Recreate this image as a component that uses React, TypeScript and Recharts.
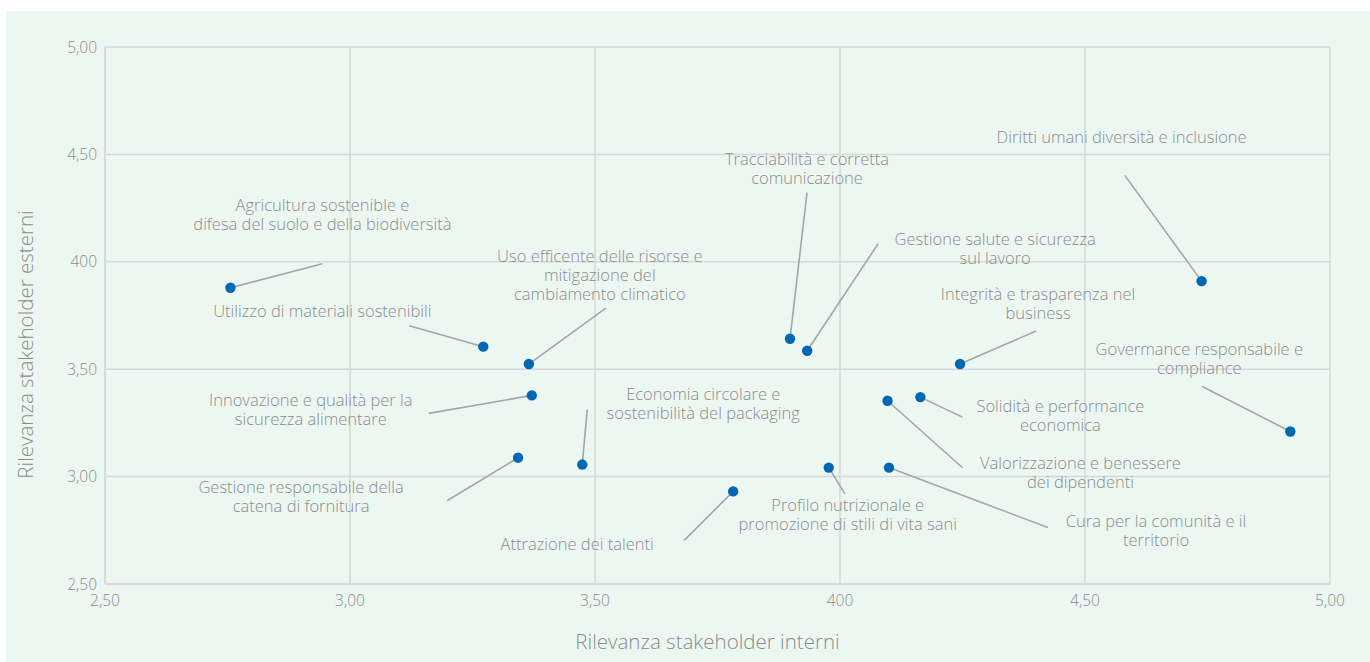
import {
  ScatterChart,
  Scatter,
  XAxis,
  YAxis,
  CartesianGrid,
  Label,
} from "recharts";

// Materiality matrix: internal vs external stakeholder relevance
const topics = [
  ["Agricultura sostenible e", "difesa del suolo e della biodiversità"],
  ["Utilizzo di materiali sostenibili"],
  ["Uso efficente delle risorse e", "mitigazione del", "cambiamento climatico"],
  ["Innovazione e qualità per la", "sicurezza alimentare"],
  ["Gestione responsabile della", "catena di fornitura"],
  ["Economia circolare e", "sostenibilità del packaging"],
  ["Attrazione dei talenti"],
  ["Tracciabilità e corretta", "comunicazione"],
  ["Gestione salute e sicurezza", "sul lavoro"],
  ["Integrità e trasparenza nel", "business"],
  ["Diritti umani diversità e inclusione"],
  ["Govermance responsabile e", "compliance"],
  ["Solidità e performance", "economica"],
  ["Valorizzazione e benessere", "dei dipendenti"],
  ["Profilo nutrizionale e", "promozione di stili di vita sani"],
  ["Cura per la comunità e il", "territorio"],
];

const internalScores = [
  2.756, 3.272, 3.365, 3.371, 3.343, 3.474, 3.782, 3.898, 3.933, 4.245, 4.738,
  4.919, 4.164, 4.097, 3.977, 4.100,
];

const externalScores = [
  3.879, 3.605, 3.524, 3.378, 3.088, 3.056, 2.931, 3.642, 3.586, 3.524, 3.910,
  3.210, 3.370, 3.353, 3.042, 3.042,
];

const axisTicks = [2.5, 3, 3.5, 4, 4.5, 5];
const axisTickLabels = ["2,50", "3,00", "3,50", "400", "4,50", "5,00"];

// callout layout, pixels relative to each dot: leader end and text centre (first line)
const callouts = [
  { lx: 92, ly: -24, tx: 92, ty: -83 },
  { lx: -74, ly: -21, tx: -161, ty: -36 },
  { lx: 77, ly: -56, tx: 71, ty: -109 },
  { lx: -103, ly: 18, tx: -221, ty: 4 },
  { lx: -71, ly: 43, tx: -217, ty: 29 },
  { lx: 5, ly: -55, tx: 121, ty: -71 },
  { lx: -49, ly: 49, tx: -156, ty: 52 },
  { lx: 17, ly: -146, tx: 17, ty: -180 },
  { lx: 71, ly: -107, tx: 188, ty: -112 },
  { lx: 76, ly: -33, tx: 78, ty: -71 },
  { lx: -77, ly: -106, tx: -80, ty: -145 },
  { lx: -88, ly: -45, tx: -91, ty: -83 },
  { lx: 42, ly: 20, tx: 140, ty: 8 },
  { lx: 75, ly: 67, tx: 193, ty: 62 },
  { lx: 16, ly: 26, tx: 19, ty: 37 },
  { lx: 159, ly: 60, tx: 267, ty: 53 },
];

const data = topics.map((lines, i) => ({
  idx: i,
  lines,
  x: internalScores[i],
  y: externalScores[i],
}));

const FONT = "'Open Sans', 'Noto Sans', sans-serif";
const TEXT_COLOR = "#878d8d";
const GRID_COLOR = "#d4d8d8";
const DOT_COLOR = "#0067b4";
const LEADER_COLOR = "#a3a6a8";
const LINE_HEIGHT = 19;

const TopicDot = (props: any) => {
  const { cx, cy, payload } = props;
  const c = callouts[payload.idx];
  return (
    <g>
      <line
        x1={cx}
        y1={cy}
        x2={cx + c.lx}
        y2={cy + c.ly}
        stroke={LEADER_COLOR}
        strokeWidth={1.6}
      />
      <circle cx={cx} cy={cy} r={5.2} fill={DOT_COLOR} />
      <text
        textAnchor="middle"
        fontFamily={FONT}
        fontWeight={300}
        fontSize={16.5}
        fill={TEXT_COLOR}
      >
        {payload.lines.map((line: string, k: number) => (
          <tspan
            key={k}
            x={cx + c.tx}
            y={cy + c.ty + k * LINE_HEIGHT}
            dominantBaseline="central"
          >
            {line}
          </tspan>
        ))}
      </text>
    </g>
  );
};

const XTitle = (props: any) => {
  const vb = props.viewBox;
  return (
    <text
      x={vb.x + vb.width / 2 - 10}
      y={vb.y + 57}
      textAnchor="middle"
      dominantBaseline="central"
      fontFamily={FONT}
      fontWeight={300}
      fontSize={20.5}
      fill={TEXT_COLOR}
    >
      Rilevanza stakeholder interni
    </text>
  );
};

const YTitle = (props: any) => {
  const vb = props.viewBox;
  const x = vb.x + 19;
  const y = vb.y + vb.height / 2 + 29;
  return (
    <text
      x={x}
      y={y}
      transform={`rotate(-90 ${x} ${y})`}
      textAnchor="middle"
      dominantBaseline="central"
      fontFamily={FONT}
      fontWeight={300}
      fontSize={20.5}
      fill={TEXT_COLOR}
    >
      Rilevanza stakeholder esterni
    </text>
  );
};

const tickLabel = (v: number) => {
  const i = axisTicks.findIndex((t) => Math.abs(t - v) < 1e-6);
  return i >= 0 ? axisTickLabels[i] : String(v);
};

const tickStyle = {
  fill: TEXT_COLOR,
  fontSize: 15.5,
  fontFamily: FONT,
  fontWeight: 300,
};

export default function App() {
  return (
    <div
      style={{
        position: "absolute",
        left: 6,
        top: 11,
        width: 1364,
        height: 651,
        background: "#edf7f2",
      }}
    >
      <ScatterChart
        width={1364}
        height={651}
        margin={{ top: 36, right: 40, left: 0, bottom: 0 }}
      >
        <CartesianGrid stroke={GRID_COLOR} strokeWidth={1.5} />
        <XAxis
          type="number"
          dataKey="x"
          domain={[2.5, 5]}
          ticks={axisTicks}
          tickFormatter={tickLabel}
          height={78}
          axisLine={{ stroke: GRID_COLOR, strokeWidth: 1.5 }}
          tickLine={false}
          tickMargin={5}
          tick={tickStyle}
          allowDataOverflow
        >
          <Label content={XTitle} />
        </XAxis>
        <YAxis
          type="number"
          dataKey="y"
          domain={[2.5, 5]}
          ticks={axisTicks}
          tickFormatter={tickLabel}
          width={99}
          axisLine={{ stroke: GRID_COLOR, strokeWidth: 1.5 }}
          tickLine={false}
          tick={tickStyle}
          allowDataOverflow
        >
          <Label content={YTitle} />
        </YAxis>
        <Scatter data={data} shape={TopicDot} isAnimationActive={false} />
      </ScatterChart>
    </div>
  );
}
